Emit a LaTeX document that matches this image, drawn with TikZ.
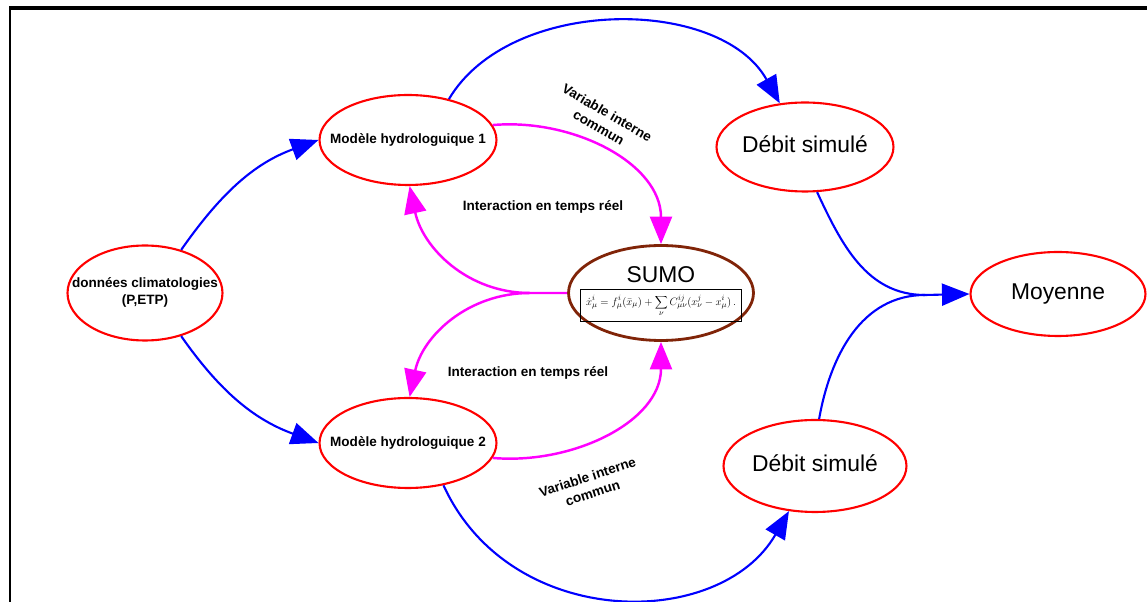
\documentclass[tikz,border=0pt]{standalone}
\usepackage{fontspec}
\setmainfont{Liberation Sans}
\usepackage{graphicx}
\usetikzlibrary{arrows.meta,shapes.geometric}
\definecolor{sumobrown}{RGB}{128,36,8}
\definecolor{linkpink}{RGB}{255,0,255}
% keep the ellipse size free from the width of its text
\newcommand{\inside}[1]{\makebox[0pt]{\begin{tabular}{@{}c@{}}#1\end{tabular}}}
\tikzset{%
  >={Triangle[length=5.5mm,width=4.4mm]},
  % Specifications for style of nodes:
        base/.style = {ellipse, draw=red, line width=1.2pt, inner sep=0pt},
       small/.style = {font=\fontsize{7.7}{9.5}\selectfont\bfseries},
       model/.style = {base, small, minimum width=3.54cm, minimum height=1.8cm},
     climate/.style = {base, small, minimum width=3.1cm, minimum height=1.9cm},
      output/.style = {base, font=\fontsize{13}{15}\selectfont},
     coupled/.style = {base, draw=sumobrown, line width=1.6pt,
                       font=\fontsize{13}{15}\selectfont,
                       minimum width=3.7cm, minimum height=1.9cm},
      remark/.style = {small, align=center},
  % Specifications for style of lines:
    flowline/.style = {draw=blue, line width=1.2pt},
    exchange/.style = {draw=linkpink, line width=1.4pt},
}

\begin{document}
\begin{tikzpicture}[x=0.02cm, y=0.02cm]
  \useasboundingbox (0,0) rectangle (1147,602);
  \draw[line width=1.2pt] (10,0) -- (10,594);
  \draw[line width=1.8pt] (9,594) -- (1147,594);

  % Specification of nodes (position, etc.)
  \node (climate) [climate] at (145,309) {\inside{données climatologies\\(P,ETP)}};
  \node (hydroA)  [model]   at (408,462) {\inside{Modèle hydrologuique 1}};
  \node (hydroB)  [model]   at (408,159) {\inside{Modèle hydrologuique 2}};
  \node (sumo)    [coupled] at (661,309) {\inside{SUMO\\[-2pt]
    \fbox{\resizebox{3.0cm}{!}{$\displaystyle \dot{x}^i_\mu = f^i_\mu(\bar{x}_\mu)
    + \sum_\nu C^{ij}_{\mu\nu}(x^j_\nu - x^i_\mu)\,.$}}}};
  \node (debitA)  [output, minimum width=3.54cm, minimum height=1.78cm] at (805,455) {\inside{Débit simulé}};
  \node (debitB)  [output, minimum width=3.66cm, minimum height=1.84cm] at (815,136) {\inside{Débit simulé}};
  \node (mean)    [output, minimum width=3.5cm, minimum height=1.68cm]  at (1058,308) {\inside{Moyenne}};
  \coordinate (join)  at (925,307);
  \coordinate (split) at (530,309);

  % labels along the lines
  \node (varA)   [remark, rotate=-30] at (603,482) {Variable interne\\commun};
  \node (varB)   [remark, rotate=18]  at (590,117) {Variable interne\\commun};
  \node (interA) [remark] at (543,395) {Interaction en temps réel};
  \node (interB) [remark] at (528,229) {Interaction en temps réel};

  % Specification of lines between nodes specified above
  \draw[flowline, ->] (climate.50) to[out=55, in=200] (hydroA.west);
  \draw[flowline, ->] (climate.-50) to[out=-55, in=160] (hydroB.west);
  \draw[flowline, ->] (hydroA.45) .. controls (510,606) and (720,606) .. (debitA.120);
  \draw[flowline, ->] (hydroB.-50) .. controls (510,-29) and (720,-29) .. (debitB.-120);
  \draw[flowline]     (debitA.-75) to[out=-65, in=180] (join);
  \draw[flowline, ->] (debitB.85) to[out=80, in=180] (join) -- (mean.west);

  \draw[exchange, ->] (hydroA.10) to[out=5, in=90] (sumo.north);
  \draw[exchange, ->] (sumo.west) -- (split) to[out=180, in=-78] (hydroA.-88);
  \draw[exchange, ->] (split) to[out=180, in=78] (hydroB.88);
  \draw[exchange, ->] (hydroB.-10) to[out=-5, in=-90] (sumo.south);
\end{tikzpicture}
\end{document}
